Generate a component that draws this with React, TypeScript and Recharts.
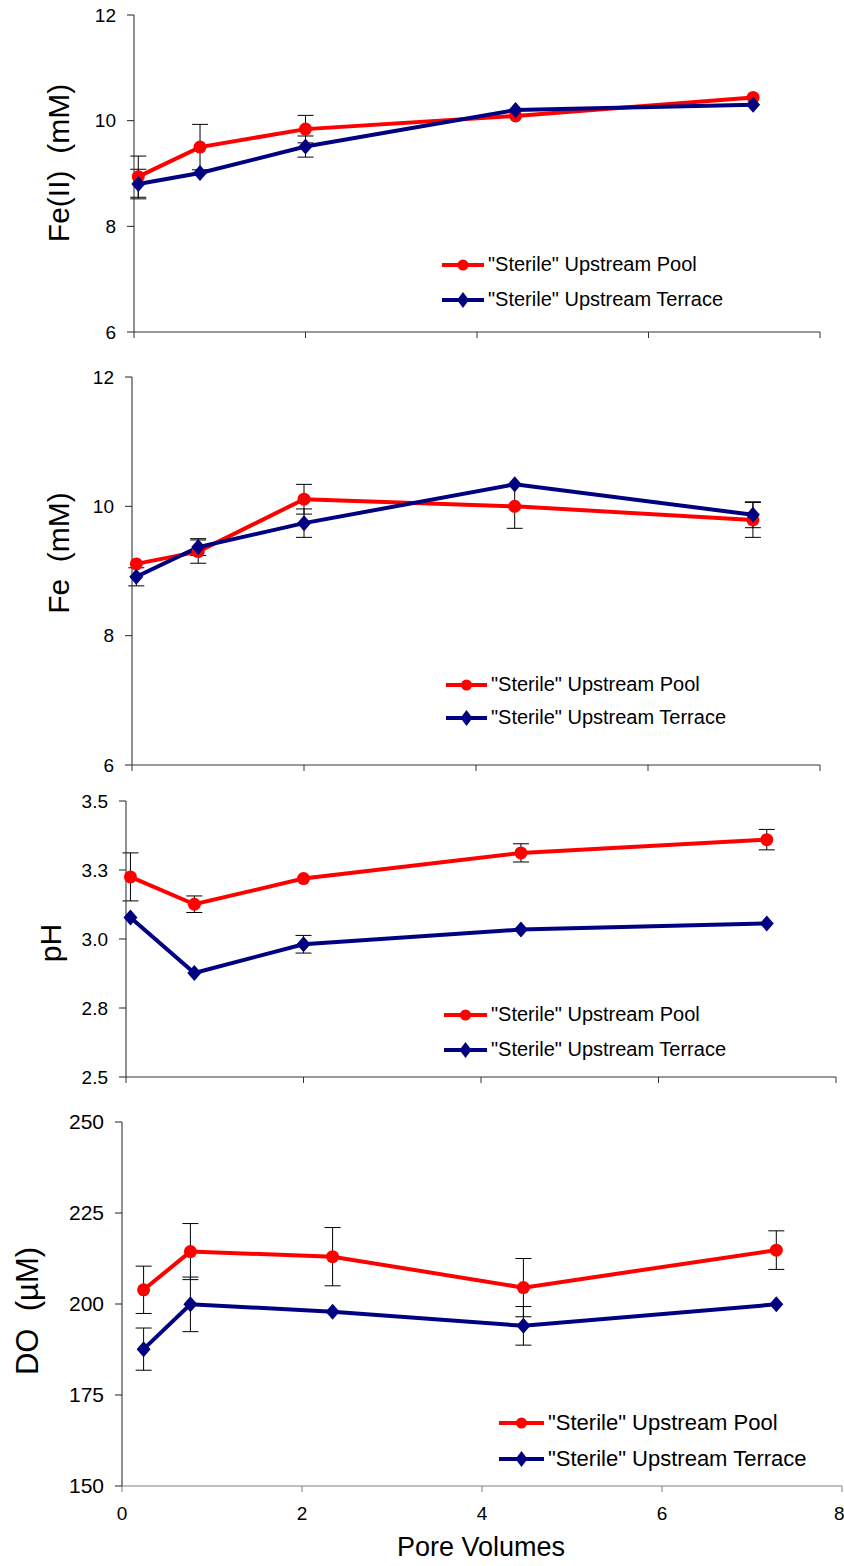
import React from "react";
import {
  LineChart,
  Line,
  XAxis,
  YAxis,
  ErrorBar,
  Legend,
} from "recharts";

const FONT = "'Liberation Sans', Arial, sans-serif";
const RED = "#ff0000";
const NAVY = "#000080";

const poolName = '"Sterile" Upstream Pool';
const terraceName = '"Sterile" Upstream Terrace';

// pore volumes (top three panels share sampling points)
const porePV = [0.05, 0.77, 2.0, 4.45, 7.22];
const porePVdo = [0.24, 0.76, 2.34, 4.46, 7.27];
const xTicks = [0, 2, 4, 6, 8];

// Fe(II)
const fe2Pool = [8.94, 9.5, 9.84, 10.09, 10.44];
const fe2PoolErr = [0.39, 0.43, 0.26, 0, 0];
const fe2Terrace = [8.8, 9.01, 9.51, 10.2, 10.3];
const fe2TerraceErr = [0.28, 0, 0.2, 0, 0];

// total Fe
const fePool = [9.11, 9.3, 10.11, 10.0, 9.79];
const fePoolErr = [0, 0.18, 0.23, 0.34, 0.27];
const feTerrace = [8.91, 9.37, 9.74, 10.34, 9.87];
const feTerraceErr = [0.14, 0.13, 0.22, 0, 0.2];

// pH
const phPool = [3.225, 3.126, 3.219, 3.312, 3.36];
const phPoolErr = [0.087, 0.03, 0, 0.033, 0.037];
const phTerrace = [3.078, 2.877, 2.981, 3.034, 3.056];
const phTerraceErr = [0, 0, 0.032, 0, 0];

// dissolved oxygen
const doPool = [203.9, 214.4, 213.0, 204.5, 214.8];
const doPoolErr = [6.5, 7.7, 8, 8, 5.3];
const doTerrace = [187.6, 199.9, 197.9, 194.0, 199.9];
const doTerraceErr = [5.8, 7.5, 0, 5.3, 0];

const feTicks = [6, 8, 10, 12];
const phTicks = [2.5, 2.75, 3.0, 3.25, 3.5];
const doTicks = [150, 175, 200, 225, 250];

const rows = (x: number[], p: number[], pe: number[], t: number[], te: number[]) =>
  x.map((v, i) => ({ pv: v, pool: p[i], poolErr: pe[i], terrace: t[i], terraceErr: te[i] }));

const Diamond = (props: any) => {
  const { cx, cy, index } = props;
  if (cx == null || cy == null) return <g key={`dm-${index}`} />;
  return (
    <polygon
      key={`dm-${index}`}
      points={`${cx},${cy - 8} ${cx + 7},${cy} ${cx},${cy + 8} ${cx - 7},${cy}`}
      fill={NAVY}
    />
  );
};

function LegendBox({ fontSize, rowH, lineW }: { fontSize: number; rowH: number; lineW: number }) {
  const items = [
    { name: poolName, color: RED, shape: "circle" },
    { name: terraceName, color: NAVY, shape: "diamond" },
  ];
  return (
    <div style={{ fontFamily: FONT, fontSize, color: "#000", whiteSpace: "nowrap" }}>
      {items.map((it) => (
        <div key={it.name} style={{ height: rowH, display: "flex", alignItems: "center" }}>
          <svg width={lineW} height={18} style={{ marginRight: 4 }}>
            <line x1={0} y1={9} x2={lineW} y2={9} stroke={it.color} strokeWidth={4} />
            {it.shape === "circle" ? (
              <circle cx={lineW / 2} cy={9} r={5.5} fill={it.color} />
            ) : (
              <polygon
                points={`${lineW / 2},1 ${lineW / 2 + 6},9 ${lineW / 2},17 ${lineW / 2 - 6},9`}
                fill={it.color}
              />
            )}
          </svg>
          <span>{it.name}</span>
        </div>
      ))}
    </div>
  );
}

interface PanelProps {
  top: number;
  height: number;
  data: any[];
  margin: { top: number; right: number; bottom: number; left: number };
  yWidth: number;
  xHeight: number;
  domain: [number, number];
  ticks: number[];
  fmt?: (v: number) => string;
  tickFont: number;
  yLabel: string;
  yLabelPos: [number, number];
  yLabelSize: number;
  legendPos: [number, number];
  legendFont: number;
  legendRow: number;
  legendLine: number;
  showX?: boolean;
}

function Panel(p: PanelProps) {
  const [lx, ly] = p.yLabelPos;
  return (
    <div style={{ position: "absolute", left: 0, top: p.top }}>
      <LineChart width={844} height={p.height} data={p.data} margin={p.margin}>
        <XAxis
          dataKey="pv"
          type="number"
          domain={[0, 8]}
          ticks={xTicks}
          height={p.xHeight}
          stroke={p.showX ? "#808080" : "#333"}
          tickSize={6}
          tickMargin={15}
          tickFormatter={(v: number) => (p.showX ? String(v) : "")}
          tick={{ fill: "#000", fontSize: 19, fontFamily: FONT }}
          label={
            p.showX
              ? {
                  value: "Pore Volumes",
                  content: () => (
                    <text x={481} y={447} textAnchor="middle" dominantBaseline="central"
                      fontSize={27} fontFamily={FONT} fill="#000">
                      Pore Volumes
                    </text>
                  ),
                }
              : undefined
          }
        />
        <YAxis
          type="number"
          domain={p.domain}
          ticks={p.ticks}
          width={p.yWidth}
          stroke="#222"
          tickSize={7}
          tickMargin={11}
          tickFormatter={p.fmt}
          tick={{ fill: "#000", fontSize: p.tickFont, fontFamily: FONT }}
          label={{
            value: p.yLabel,
            content: () => (
              <text x={lx} y={ly} transform={`rotate(-90 ${lx} ${ly})`} textAnchor="middle"
                dominantBaseline="central" fontSize={p.yLabelSize} fontFamily={FONT} fill="#000">
                {p.yLabel}
              </text>
            ),
          }}
        />
        <Legend
          layout="vertical"
          align="center"
          verticalAlign="middle"
          wrapperStyle={{ left: p.legendPos[0], top: p.legendPos[1], width: "auto" }}
          content={() => <LegendBox fontSize={p.legendFont} rowH={p.legendRow} lineW={p.legendLine} />}
        />
        <Line
          name={poolName}
          dataKey="pool"
          type="linear"
          stroke={RED}
          strokeWidth={4}
          dot={{ r: 6.5, fill: RED, stroke: RED, strokeWidth: 0 }}
          isAnimationActive={false}
        >
          <ErrorBar dataKey="poolErr" direction="y" width={8} stroke="#000" strokeWidth={1} />
        </Line>
        <Line
          name={terraceName}
          dataKey="terrace"
          type="linear"
          stroke={NAVY}
          strokeWidth={4}
          dot={Diamond}
          isAnimationActive={false}
        >
          <ErrorBar dataKey="terraceErr" direction="y" width={8} stroke="#000" strokeWidth={1} />
        </Line>
      </LineChart>
    </div>
  );
}

export default function App() {
  return (
    <div style={{ position: "absolute", left: 0, top: 0, width: 844, height: 1566, background: "#fff" }}>
      <Panel
        top={0}
        height={360}
        data={rows(porePV, fe2Pool, fe2PoolErr, fe2Terrace, fe2TerraceErr)}
        margin={{ top: 15, right: 24, bottom: 8, left: 0 }}
        yWidth={134}
        xHeight={20}
        domain={[6, 12]}
        ticks={feTicks}
        tickFont={19}
        yLabel={"Fe(II)\u00a0\u00a0(mM)"}
        yLabelPos={[58, 163]}
        yLabelSize={30}
        legendPos={[442, 247]}
        legendFont={20}
        legendRow={35}
        legendLine={42}
      />
      <Panel
        top={360}
        height={420}
        data={rows(porePV, fePool, fePoolErr, feTerrace, feTerraceErr)}
        margin={{ top: 17, right: 24, bottom: 5, left: 0 }}
        yWidth={132}
        xHeight={10}
        domain={[6, 12]}
        ticks={feTicks}
        tickFont={19}
        yLabel={"Fe\u00a0\u00a0(mM)"}
        yLabelPos={[58, 193]}
        yLabelSize={30}
        legendPos={[446, 308]}
        legendFont={20}
        legendRow={33}
        legendLine={41}
      />
      <Panel
        top={780}
        height={320}
        data={rows(porePV, phPool, phPoolErr, phTerrace, phTerraceErr)}
        margin={{ top: 21, right: 8, bottom: 13, left: 0 }}
        yWidth={126}
        xHeight={10}
        domain={[2.5, 3.5]}
        ticks={phTicks}
        fmt={(v: number) => v.toFixed(1)}
        tickFont={19}
        yLabel="pH"
        yLabelPos={[50, 163]}
        yLabelSize={30}
        legendPos={[444, 217]}
        legendFont={20}
        legendRow={35}
        legendLine={43}
      />
      <Panel
        top={1100}
        height={466}
        data={rows(porePVdo, doPool, doPoolErr, doTerrace, doTerraceErr)}
        margin={{ top: 22, right: 2, bottom: 0, left: 0 }}
        yWidth={122}
        xHeight={80}
        domain={[150, 250]}
        ticks={doTicks}
        tickFont={21}
        yLabel={"DO\u00a0\u00a0(µM)"}
        yLabelPos={[27, 211]}
        yLabelSize={31}
        legendPos={[499, 305]}
        legendFont={22}
        legendRow={36}
        legendLine={45}
        showX
      />
    </div>
  );
}
